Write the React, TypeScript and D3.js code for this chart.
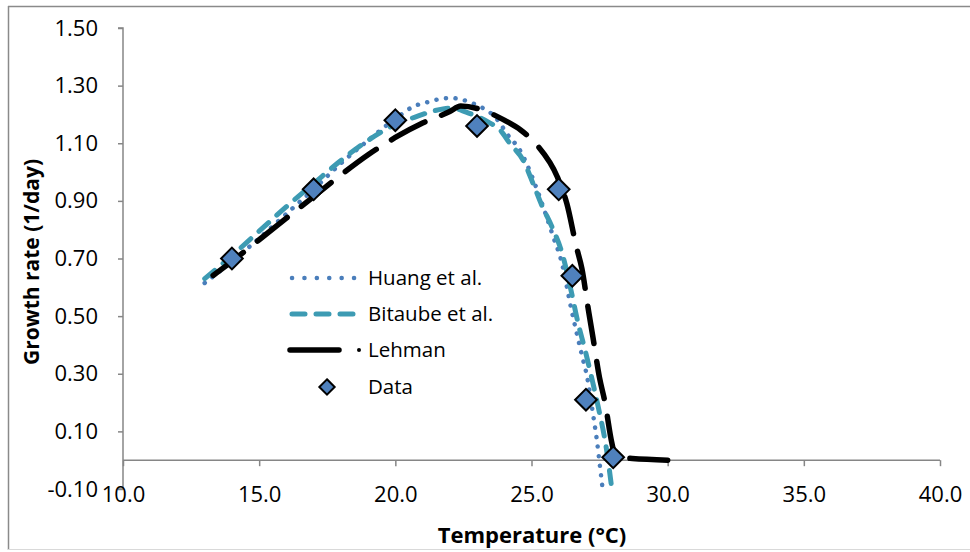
import React, { useRef, useEffect } from 'react';
import * as d3 from 'd3';

// series
const huangT = [13, 14, 15, 16, 17, 18, 19, 20, 20.7, 21.2, 21.6, 22.05, 22.5, 22.9, 23.7, 24.2, 24.5, 25.2, 25.5, 25.8, 26.1, 26.45, 26.65, 26.85, 27.05, 27.25, 27.4, 27.5, 27.6];
const huangG = [0.615, 0.69, 0.77, 0.855, 0.94, 1.03, 1.11, 1.185, 1.229, 1.243, 1.253, 1.257, 1.25, 1.236, 1.187, 1.12, 1.087, 0.94, 0.86, 0.775, 0.69, 0.53, 0.445, 0.365, 0.285, 0.165, 0.07, -0.01, -0.09];

const bitaubeT = [13, 14, 15, 16, 17, 18, 19, 20, 20.7, 21.75, 22.1, 22.6, 23.4, 23.85, 24.2, 24.7, 25.1, 25.4, 25.75, 26.15, 26.45, 26.7, 27.0, 27.2, 27.45, 27.75, 27.95];
const bitaubeG = [0.63, 0.71, 0.795, 0.88, 0.96, 1.04, 1.11, 1.165, 1.19, 1.219, 1.222, 1.208, 1.174, 1.146, 1.1, 1.04, 0.95, 0.88, 0.81, 0.71, 0.59, 0.48, 0.37, 0.29, 0.185, 0.04, -0.1];

const lehmanT = [13, 14, 15, 16, 17, 18, 19, 20, 21, 22, 22.4, 23.2, 24, 24.6, 25.2, 25.95, 26.3, 26.65, 26.85, 27.1, 27.25, 27.5, 27.7, 27.95, 28.1, 28.7, 30];
const lehmanG = [0.62, 0.69, 0.765, 0.84, 0.915, 0.99, 1.06, 1.12, 1.17, 1.21, 1.229, 1.215, 1.18, 1.146, 1.094, 0.983, 0.89, 0.74, 0.665, 0.515, 0.43, 0.285, 0.2, 0.06, 0.01, 0.006, 0.0];

const dataT = [14, 17, 20, 23, 26, 26.5, 27, 28];
const dataG = [0.7, 0.94, 1.18, 1.16, 0.94, 0.64, 0.21, 0.01];

const xTicks = [10, 15, 20, 25, 30, 35, 40];
const yTicks = [-0.1, 0.1, 0.3, 0.5, 0.7, 0.9, 1.1, 1.3, 1.5];

const legendNames = ['Huang et al.', 'Bitaube et al.', 'Lehman', 'Data'];

const W = 970;
const H = 552;
const FONT = '"Open Sans", "Noto Sans", sans-serif';

const App = () => {
  const svgRef = useRef(null);

  useEffect(() => {
    const svg = d3.select(svgRef.current);
    svg.selectAll('*').remove();

    const x = d3.scaleLinear().domain([10, 40]).range([123, 940]);
    const y = d3.scaleLinear().domain([-0.1, 1.5]).range([489, 28]);

    // outer frame (left/top darker, bottom light)
    svg.append('line').attr('x1', 8.5).attr('x2', 8.5).attr('y1', 6).attr('y2', 550).attr('stroke', '#8a8a8a').attr('stroke-width', 1.5);
    svg.append('line').attr('x1', 8).attr('x2', W).attr('y1', 6.5).attr('y2', 6.5).attr('stroke', '#8a8a8a').attr('stroke-width', 1.5);
    svg.append('line').attr('x1', 8).attr('x2', W).attr('y1', 549.5).attr('y2', 549.5).attr('stroke', '#d9d9d9');

    // y axis
    const yFmt = (d) => d.toFixed(2);
    const yAxis = d3.axisLeft(y).tickValues(yTicks).tickSize(5).tickFormat(yFmt);
    const gy = svg.append('g').attr('transform', `translate(${x(10)},0)`).call(yAxis);
    gy.select('.domain').attr('stroke', '#868686').attr('stroke-width', 1.5).attr('d', `M-5,${y(1.5)}H0V${y(-0.1)}H-5`);
    gy.selectAll('.tick line').attr('stroke', '#868686').attr('stroke-width', 1.5);
    gy.selectAll('.tick text')
      .attr('font-family', FONT).attr('font-size', 22).attr('fill', '#000')
      .attr('x', -25);

    // x axis sits at y = 0
    const xAxis = d3.axisBottom(x).tickValues(xTicks).tickSize(6).tickFormat((d) => d.toFixed(1));
    const gx = svg.append('g').attr('transform', `translate(0,${y(0)})`).call(xAxis);
    gx.select('.domain').attr('stroke', '#868686').attr('stroke-width', 1.5).attr('d', `M${x(10)},0H${x(40)}`);
    gx.selectAll('.tick line').attr('stroke', '#868686').attr('stroke-width', 1.5);
    gx.selectAll('.tick text')
      .attr('font-family', FONT).attr('font-size', 22).attr('fill', '#000')
      .attr('y', 26);

    const line = d3.line()
      .x((d) => x(d[0]))
      .y((d) => y(d[1]))
      .curve(d3.curveMonotoneX);

    const huang = huangT.map((t, i) => [t, huangG[i]]);
    const bitaube = bitaubeT.map((t, i) => [t, bitaubeG[i]]);
    const lehman = lehmanT.map((t, i) => [t, lehmanG[i]]);

    const styles = [
      { color: '#4a7ebb', width: 4.5, dash: '0.1 9.5', cap: 'round' },
      { color: '#3d9bb3', width: 5, dash: '13 11', cap: 'round' },
      { color: '#000000', width: 5.5, dash: '38 18', cap: 'round' }
    ];

    [huang, bitaube, lehman].forEach((s, i) => {
      const p = svg.append('path')
        .attr('d', line(s))
        .attr('fill', 'none')
        .attr('stroke', styles[i].color)
        .attr('stroke-width', styles[i].width)
        .attr('stroke-dasharray', styles[i].dash)
        .attr('stroke-linecap', styles[i].cap);
      if (i === 2) {
        // line the dashes up so the last one ends at 30 °C
        const len = p.node().getTotalLength();
        p.attr('stroke-dashoffset', 38 - (len % 56));
      }
    });

    const diamond = d3.symbol().type(d3.symbolDiamond2).size(300);
    svg.selectAll('.pt')
      .data(dataT.map((t, i) => [t, dataG[i]]))
      .join('path')
      .attr('class', 'pt')
      .attr('d', diamond)
      .attr('transform', (d) => `translate(${x(d[0])},${y(d[1])})`)
      .attr('fill', '#4f81bd')
      .attr('stroke', '#000')
      .attr('stroke-width', 2);

    // legend
    const lg = svg.append('g');
    const rowY = [278, 314, 350, 387];
    [0, 1].forEach((i) => {
      lg.append('line')
        .attr('x1', 292).attr('x2', 356).attr('y1', rowY[i]).attr('y2', rowY[i])
        .attr('stroke', styles[i].color)
        .attr('stroke-width', styles[i].width)
        .attr('stroke-dasharray', i === 0 ? '0.1 12.3' : '13 11')
        .attr('stroke-linecap', 'round');
    });
    lg.append('line')
      .attr('x1', 290).attr('x2', 339).attr('y1', rowY[2]).attr('y2', rowY[2])
      .attr('stroke', '#000').attr('stroke-width', 5.5).attr('stroke-linecap', 'round');
    lg.append('circle').attr('cx', 359).attr('cy', rowY[2]).attr('r', 2).attr('fill', '#000');
    lg.append('path')
      .attr('d', d3.symbol().type(d3.symbolDiamond2).size(150))
      .attr('transform', `translate(327,${rowY[3]})`)
      .attr('fill', '#4f81bd').attr('stroke', '#000').attr('stroke-width', 2);
    legendNames.forEach((n, i) => {
      lg.append('text')
        .attr('x', 368).attr('y', rowY[i]).attr('dy', '0.35em')
        .attr('font-family', FONT).attr('font-size', 20.5)
        .text(n);
    });

    // axis titles
    svg.append('text')
      .attr('x', 532).attr('y', 543)
      .attr('text-anchor', 'middle')
      .attr('font-family', FONT).attr('font-size', 22).attr('font-weight', 'bold')
      .text('Temperature (°C)');
    svg.append('text')
      .attr('transform', 'translate(39,262) rotate(-90)')
      .attr('text-anchor', 'middle')
      .attr('font-family', FONT).attr('font-size', 21).attr('font-weight', 'bold')
      .text('Growth rate (1/day)');
  }, []);

  return (
    <svg
      ref={svgRef}
      width={W}
      height={H}
      style={{ position: 'absolute', left: 0, top: 0, background: '#fff' }}
    />
  );
};

export default App;
